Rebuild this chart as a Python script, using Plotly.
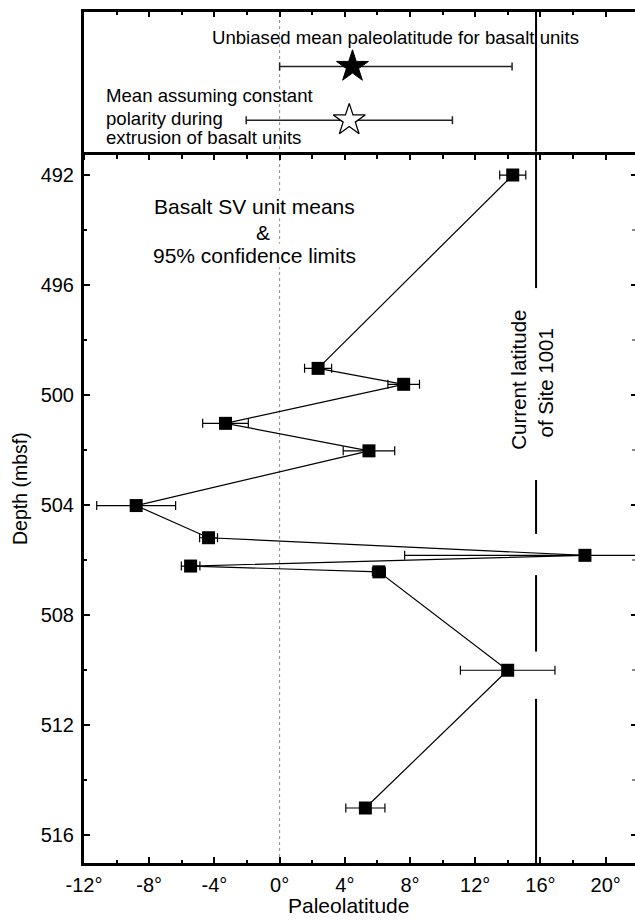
import plotly.graph_objects as go

# ---------------- data ----------------
depth_mbsf = [492.0, 499.03, 499.61, 501.03, 502.03, 504.02, 505.19, 505.83, 506.22, 506.43, 510.01, 515.02]
paleolat_deg = [14.3, 2.36, 7.61, -3.32, 5.48, -8.8, -4.36, 18.73, -5.46, 6.09, 13.99, 5.26]
conf95_deg = [0.8, 0.83, 0.97, 1.4, 1.58, 2.42, 0.55, 11.06, 0.57, 0.4, 2.9, 1.2]

mean_labels = ["Unbiased mean", "Constant polarity mean"]
mean_lat = [4.47, 4.27]
mean_err_plus = [9.79, 6.33]
mean_err_minus = [4.47, 6.32]
mean_row = [0.609, 0.226]

site_lat = 15.73
site_line_segments = [(491.15, 496.11), (503.09, 505.05), (506.55, 509.33), (511.05, 517.02)]

x_ticks = [-12, -8, -4, 0, 4, 8, 12, 16, 20]
x_ticktext = ["-12°", "-8°", "-4°", "0°", "4°", "8°", "12°", "16°", "20°"]
y_ticks = [492, 496, 500, 504, 508, 512, 516]

# ---------------- layout constants ----------------
FONT = "Liberation Sans, Arial, Helvetica, sans-serif"
W, H = 635, 921
ML, MR, MT, MB = 84, 0, 12, 58
PW, PH = W - ML - MR, H - MT - MB
split = (H - MB - 151.7) / PH
XR = [-12, 21.8]
YR = [517.02, 491.15]


def px_x(px):
    return (px - ML) / PW


def px_y(py):
    return (H - MB - py) / PH


fig = go.Figure()

# current latitude line (main panel, broken)
sx, sy = [], []
for a, b in site_line_segments:
    sx += [site_lat, site_lat, None]
    sy += [a, b, None]
fig.add_trace(go.Scatter(x=sx, y=sy, mode="lines", line=dict(color="black", width=2),
                         xaxis="x", yaxis="y", showlegend=False, hoverinfo="skip"))
# current latitude line (top panel)
fig.add_trace(go.Scatter(x=[site_lat, site_lat], y=[0, 1], mode="lines",
                         line=dict(color="black", width=2),
                         xaxis="x2", yaxis="y2", showlegend=False, hoverinfo="skip"))

# main data
fig.add_trace(go.Scatter(
    x=paleolat_deg, y=depth_mbsf, mode="lines+markers",
    line=dict(color="black", width=1.2),
    marker=dict(symbol="square", size=13, color="black"),
    error_x=dict(type="data", array=conf95_deg, color="black", thickness=1.2, width=4.5),
    xaxis="x", yaxis="y", showlegend=False))

# mean stars
fig.add_trace(go.Scatter(
    x=[mean_lat[0]], y=[mean_row[0]], mode="markers",
    marker=dict(symbol="star", size=24, color="black", line=dict(color="black", width=1)),
    error_x=dict(type="data", array=[mean_err_plus[0]], arrayminus=[mean_err_minus[0]],
                 color="#222", thickness=1.5, width=4),
    xaxis="x2", yaxis="y2", showlegend=False, name=mean_labels[0]))
fig.add_trace(go.Scatter(
    x=[mean_lat[1]], y=[mean_row[1]], mode="markers",
    marker=dict(symbol="star", size=24, color="white", line=dict(color="black", width=1.3)),
    error_x=dict(type="data", array=[mean_err_plus[1]], arrayminus=[mean_err_minus[1]],
                 color="#222", thickness=1.5, width=4),
    xaxis="x2", yaxis="y2", showlegend=False, name=mean_labels[1]))

# dummy traces so overlay axes get drawn
fig.add_trace(go.Scatter(x=[None], y=[None], xaxis="x3", yaxis="y2", showlegend=False, hoverinfo="skip"))
fig.add_trace(go.Scatter(x=[None], y=[None], xaxis="x", yaxis="y3", showlegend=False, hoverinfo="skip"))

tickfont = dict(family=FONT, size=20, color="black")

common_x = dict(range=XR, showgrid=False, zeroline=False, showline=True, linewidth=3,
                linecolor="black", tickwidth=2, tickcolor="black", tickvals=x_ticks,
                ticktext=x_ticktext, tickfont=tickfont)

fig.update_layout(
    width=W, height=H,
    margin=dict(l=ML, r=MR, t=MT, b=MB, pad=0),
    paper_bgcolor="white", plot_bgcolor="white",
    font=dict(family=FONT, color="black"),
    xaxis=dict(**common_x, anchor="y", side="bottom", ticks="inside", ticklen=6,
               ticklabelstandoff=2,
               minor=dict(ticks="inside", ticklen=3, tickwidth=2, tickcolor="black",
                          tickmode="linear", tick0=0, dtick=2)),
    xaxis2=dict(**common_x, anchor="y2", side="bottom", ticks="outside", ticklen=5,
                showticklabels=False,
                minor=dict(ticks="outside", ticklen=4, tickwidth=2, tickcolor="black",
                           tickmode="linear", tick0=0, dtick=2)),
    xaxis3=dict(**common_x, anchor="y2", overlaying="x2", side="top", ticks="inside",
                ticklen=5, showticklabels=False,
                minor=dict(ticks="inside", ticklen=3, tickwidth=2, tickcolor="black",
                           tickmode="linear", tick0=0, dtick=2)),
    yaxis=dict(domain=[0, split], range=YR, anchor="x", side="left", showgrid=False,
               zeroline=False, showline=True, linewidth=3, linecolor="black",
               ticks="inside", ticklen=6, tickwidth=2, tickcolor="black",
               tickvals=y_ticks, tickfont=tickfont, ticklabelstandoff=3,
               minor=dict(ticks="inside", ticklen=3, tickwidth=2, tickcolor="black",
                          tickmode="linear", tick0=492, dtick=2)),
    yaxis3=dict(range=YR, anchor="x", overlaying="y", side="right", showgrid=False,
                zeroline=False, showline=False, ticks="inside", ticklen=4, tickwidth=2,
                tickcolor="black", tickvals=y_ticks, showticklabels=False,
                minor=dict(ticks="inside", ticklen=3, tickwidth=2, tickcolor="#888",
                           tickmode="linear", tick0=492, dtick=2)),
    yaxis2=dict(domain=[split, 1], range=[0, 1], anchor="x2", side="left", showgrid=False,
                zeroline=False, showline=True, linewidth=3, linecolor="black",
                ticks="", showticklabels=False),
)

# dotted zero line through both panels
fig.add_shape(type="line", xref="x", yref="paper", x0=0, x1=0, y0=0, y1=1,
              line=dict(color="#8a8a8a", width=1, dash="dot"), layer="below")

ann = []
# axis titles
ann.append(dict(text="Depth (mbsf)", xref="paper", yref="paper", x=px_x(20), y=px_y(489),
                textangle=-90, showarrow=False, font=dict(family=FONT, size=19.5),
                xanchor="center", yanchor="middle"))
ann.append(dict(text="Paleolatitude", xref="paper", yref="paper", x=px_x(348), y=px_y(906),
                showarrow=False, font=dict(family=FONT, size=21), borderpad=0,
                xanchor="center", yanchor="middle"))
# main panel text
for txt, xx, yy in [("Basalt SV unit means", -1.565, 493.16), ("&", -1.0, 494.08),
                    ("95% confidence limits", -1.565, 494.93)]:
    ann.append(dict(text=txt, xref="x", yref="y", x=xx, y=yy, showarrow=False,
                    font=dict(family=FONT, size=21), bgcolor="white", borderpad=0,
                    xanchor="center", yanchor="middle"))
for txt, xx, yy in [("Current latitude", 14.67, 499.45), ("of Site 1001", 16.33, 499.55)]:
    ann.append(dict(text=txt, xref="x", yref="y", x=xx, y=yy, showarrow=False, textangle=-90,
                    font=dict(family=FONT, size=20.5), xanchor="center", yanchor="middle"))
# top panel text
ann.append(dict(text="Unbiased mean paleolatitude for basalt units", xref="x2", yref="y2",
                x=7.08, y=0.819, showarrow=False, font=dict(family=FONT, size=18.6),
                xanchor="center", yanchor="middle"))
for txt, yy in [("Mean assuming constant", 0.405), ("polarity during", 0.241),
                ("extrusion of basalt units", 0.101)]:
    ann.append(dict(text=txt, xref="x2", yref="y2", x=-10.8, y=yy, showarrow=False,
                    font=dict(family=FONT, size=18.6), xanchor="left", yanchor="middle"))
fig.update_layout(annotations=ann)

fig.write_html("out.html", config={"displayModeBar": False},
               post_script="document.body.style.margin='0px';document.body.style.overflow='hidden';")
